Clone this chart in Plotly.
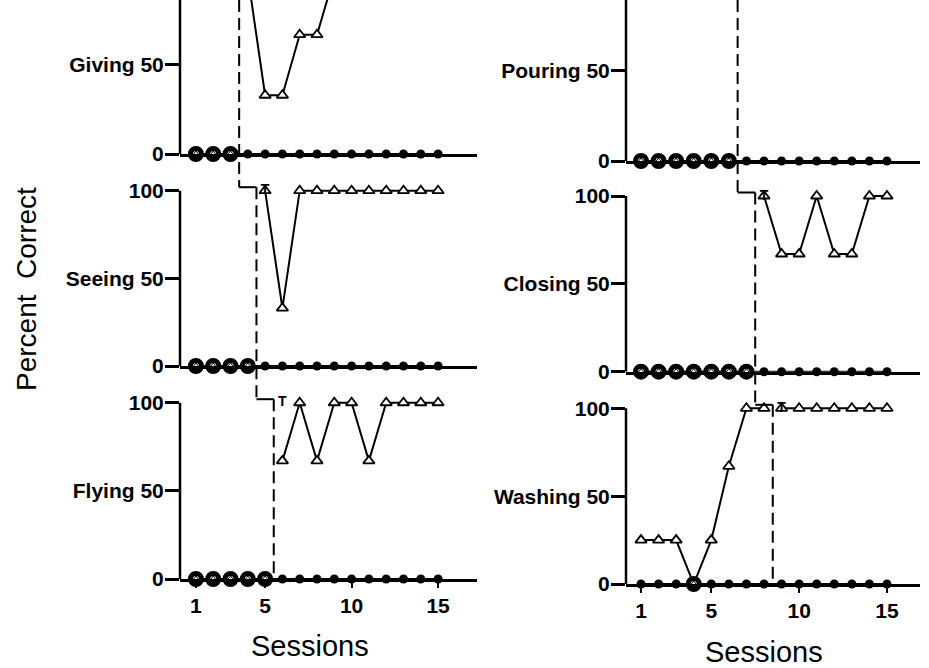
import plotly.graph_objects as go

# ---------------- data ----------------
sessions = list(range(1, 16))
x_tick_vals = [1, 5, 10, 15]
x_tick_text = ["1", "5", "10", "15"]
y_tick_vals = [0, 50, 100]

panel_names = ["Giving", "Seeing", "Flying", "Pouring", "Closing", "Washing"]
phase_change = [3.5, 4.5, 5.5, 6.5, 7.5, 8.5]

# triangle series: baseline values (from session 1) and treatment values (from phase start)
giving_base = [0, 0, 0]
giving_treat = [100, 33, 33, 67, 67, 100]
seeing_base = [0, 0, 0, 0]
seeing_treat = [100, 33, 100, 100, 100, 100, 100, 100, 100, 100, 100]
flying_base = [0, 0, 0, 0, 0]
flying_treat = [67, 100, 67, 100, 100, 67, 100, 100, 100, 100]
pouring_base = [0, 0, 0, 0, 0, 0]
pouring_treat = []
closing_base = [0, 0, 0, 0, 0, 0, 0]
closing_treat = [100, 67, 67, 100, 67, 67, 100, 100]
washing_base = [25, 25, 25, 0, 25, 67, 100, 100]
washing_treat = [100, 100, 100, 100, 100, 100, 100]

# filled-circle series (sessions 1-15)
giving_circles = [0, 0, 0, 0, 0, 0, 0, 0, 0, 0, 0, 0, 0, 0, 0]
seeing_circles = [0, 0, 0, 0, 0, 0, 0, 0, 0, 0, 0, 0, 0, 0, 0]
flying_circles = [0, 0, 0, 0, 0, 0, 0, 0, 0, 0, 0, 0, 0, 0, 0]
pouring_circles = [0, 0, 0, 0, 0, 0, 0, 0, 0, 0, 0, 0, 0, 0, 0]
closing_circles = [0, 0, 0, 0, 0, 0, 0, 0, 0, 0, 0, 0, 0, 0, 0]
washing_circles = [0, 0, 0, 0, 0, 0, 0, 0, 0, 0, 0, 0, 0, 0, 0]

# "T" marks (session, value)
t_sessions = [None, 5, 6, None, 8, 9]
t_values = [None, 100, 100, None, 100, 100]

bases = [giving_base, seeing_base, flying_base, pouring_base, closing_base, washing_base]
treats = [giving_treat, seeing_treat, flying_treat, pouring_treat, closing_treat, washing_treat]
circles = [giving_circles, seeing_circles, flying_circles, pouring_circles,
           closing_circles, washing_circles]

# ---------------- layout geometry ----------------
W, H = 929, 668
# pixel boxes: (left, right, top, bottom)
boxes = [
    (180, 477, 0, 154),
    (180, 477, 187.2, 366),
    (180, 477, 399.2, 579),
    (626, 920, 0, 161),
    (626, 920, 192.5, 371.7),
    (626, 920, 404.8, 584),
]
y_ranges = [[0, 86.5], [0, 102], [0, 102], [0, 89], [0, 102], [0, 102]]
x_ranges = [[0.08, 17.25]] * 3 + [[0.146, 16.88]] * 3

FONT = "Liberation Sans, Arial, sans-serif"

fig = go.Figure()
layout = dict(
    width=W, height=H, margin=dict(l=0, r=0, t=0, b=0, pad=0, autoexpand=False),
    paper_bgcolor="white", plot_bgcolor="rgba(0,0,0,0)", showlegend=False,
)
shapes = []
annotations = []

for i in range(6):
    n = "" if i == 0 else str(i + 1)
    xa, ya = "x" + n, "y" + n
    l, r, t, b = boxes[i]
    dom_x = [l / W, r / W]
    dom_y = [1 - b / H, 1 - t / H]
    bottom_panel = i in (2, 5)
    layout["xaxis" + n] = dict(
        domain=dom_x, range=x_ranges[i], anchor=ya, automargin=False,
        showline=True, linewidth=2.5, linecolor="black",
        showgrid=False, zeroline=False,
        tickvals=x_tick_vals, ticktext=x_tick_text,
        showticklabels=bottom_panel, ticks="outside" if bottom_panel else "",
        ticklen=6, tickwidth=2, tickcolor="black",
        ticklabelstandoff=0,
        tickfont=dict(family=FONT, size=21, color="black", weight="bold"),
    )
    layout["yaxis" + n] = dict(
        domain=dom_y, range=y_ranges[i], anchor=xa, automargin=False,
        showline=False, showgrid=False, zeroline=False,
        tickvals=y_tick_vals,
        ticktext=["0", panel_names[i] + " 50", "100"],
        ticks="outside", ticklen=14, tickwidth=2.5, tickcolor="black",
        ticklabelstandoff=-3,
        tickfont=dict(family=FONT, size=21, color="black", weight="bold"),
    )
    # y-axis line from 0 to 100
    shapes.append(dict(type="line", xref=xa + " domain", yref=ya,
                       x0=0, x1=0, y0=0, y1=100,
                       line=dict(color="black", width=2.5)))

    base = bases[i]
    treat = treats[i]
    circ = circles[i]
    start = len(base) + 1
    base_x = sessions[:len(base)]
    treat_x = sessions[start - 1:start - 1 + len(treat)]
    tri = dict(zip(base_x, base))
    tri.update(dict(zip(treat_x, treat)))
    ring = [s for s in sessions if tri.get(s) == 0 and circ[s - 1] == 0]

    # circle series line
    fig.add_trace(go.Scatter(x=sessions, y=circ, mode="lines", xaxis=xa, yaxis=ya,
                             line=dict(color="black", width=2), cliponaxis=False,
                             hoverinfo="skip"))
    # triangle series lines
    for xs, ys in ((base_x, base), (treat_x, treat)):
        if xs:
            fig.add_trace(go.Scatter(x=xs, y=ys, mode="lines", xaxis=xa, yaxis=ya,
                                     line=dict(color="black", width=2),
                                     hoverinfo="skip"))
    # filled circles
    fx = [s for s in sessions if s not in ring]
    fy = [circ[s - 1] for s in fx]
    fig.add_trace(go.Scatter(x=fx, y=fy, mode="markers", xaxis=xa, yaxis=ya,
                             marker=dict(symbol="circle", size=9, color="black"),
                             cliponaxis=False, hoverinfo="skip"))
    # rings (circle and triangle both at zero)
    fig.add_trace(go.Scatter(x=ring, y=[circ[s - 1] for s in ring], mode="markers",
                             xaxis=xa, yaxis=ya,
                             marker=dict(symbol="circle", size=11, color="white",
                                         line=dict(color="black", width=5)),
                             cliponaxis=False, hoverinfo="skip"))
    fig.add_trace(go.Scatter(x=ring, y=[tri[s] for s in ring], mode="markers",
                             xaxis=xa, yaxis=ya,
                             marker=dict(symbol="triangle-up", size=6, color="white",
                                         line=dict(color="black", width=1)),
                             cliponaxis=False, hoverinfo="skip"))
    # open triangles
    tx = [s for s in sorted(tri) if s not in ring]
    ty = [tri[s] for s in tx]
    fig.add_trace(go.Scatter(x=tx, y=ty, mode="markers", xaxis=xa, yaxis=ya,
                             marker=dict(symbol="triangle-up", size=10, color="white",
                                         line=dict(color="black", width=1.8)),
                             cliponaxis=False, hoverinfo="skip"))
    # T marks
    if t_sessions[i] is not None:
        fig.add_trace(go.Scatter(x=[t_sessions[i]], y=[t_values[i]], mode="text",
                                 text=["T"], xaxis=xa, yaxis=ya,
                                 textfont=dict(family=FONT, size=14, color="black",
                                               weight="bold"),
                                 textposition="middle center", cliponaxis=False,
                                 hoverinfo="skip"))

# phase-change staircase lines
for col in (0, 3):
    for k in range(3):
        i = col + k
        n = "" if i == 0 else str(i + 1)
        xa = "x" + n
        top_i = 1 - boxes[i][2] / H
        if k < 2:
            nxt = boxes[i + 1]
            end_y = 1 - nxt[2] / H
        else:
            end_y = 1 - boxes[i][3] / H
        shapes.append(dict(type="line", xref=xa, yref="paper",
                           x0=phase_change[i], x1=phase_change[i], y0=top_i, y1=end_y,
                           line=dict(color="black", width=2, dash="12px,6px")))
        if k < 2:
            shapes.append(dict(type="line", xref=xa, yref="paper",
                               x0=phase_change[i], x1=phase_change[i + 1],
                               y0=end_y, y1=end_y,
                               line=dict(color="black", width=2)))

annotations.append(dict(text="Percent\u00a0\u00a0Correct", x=26 / W, y=1 - 289 / H,
                        xref="paper", yref="paper", showarrow=False, textangle=-90,
                        font=dict(family=FONT, size=28, color="black"),
                        xanchor="center", yanchor="middle"))
annotations.append(dict(text="Sessions", x=310 / W, y=1 - 646 / H,
                        xref="paper", yref="paper", showarrow=False,
                        font=dict(family=FONT, size=29, color="black"),
                        xanchor="center", yanchor="middle"))
annotations.append(dict(text="Sessions", x=764 / W, y=1 - 652 / H,
                        xref="paper", yref="paper", showarrow=False,
                        font=dict(family=FONT, size=29, color="black"),
                        xanchor="center", yanchor="middle"))

layout["shapes"] = shapes
layout["annotations"] = annotations
fig.update_layout(**layout)
fig.write_html("out.html")
